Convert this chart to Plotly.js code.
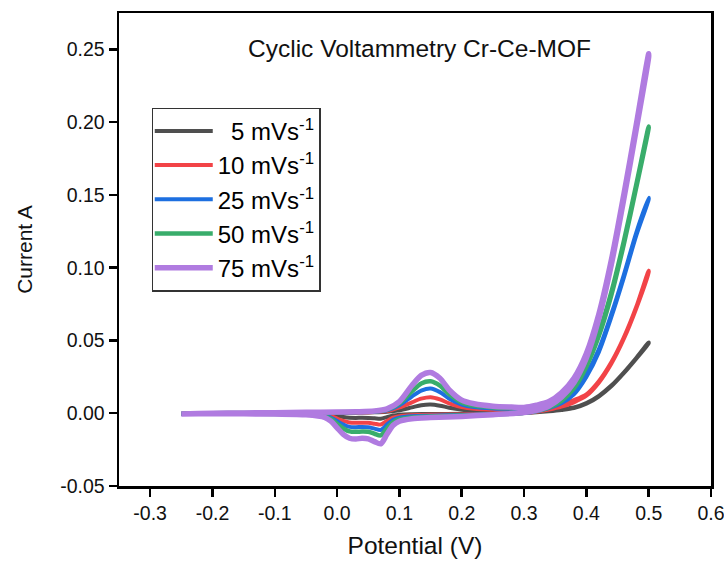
<!DOCTYPE html>
<html>
<head>
<meta charset="utf-8">
<script src="https://cdn.plot.ly/plotly-3.0.1.min.js"></script>
<style>html,body{margin:0;padding:0;background:#fff;}#chart{width:724px;height:561px;}</style>
</head>
<body>
<div id="chart"></div>
<script>
// Scan rate labels
const seriesNames = ["\u00a0\u00a05 mVs<sup>-1</sup>", "10 mVs<sup>-1</sup>", "25 mVs<sup>-1</sup>", "50 mVs<sup>-1</sup>", "75 mVs<sup>-1</sup>"];
const seriesColors = ["#4f4f4f", "#f24347", "#1d6fe0", "#39ad6b", "#b07be0"];

// Forward (anodic) scan potentials, V
const potentialForward = [-0.25, -0.2, -0.15, -0.1, -0.05, 0.0, 0.03, 0.06, 0.08, 0.10, 0.12, 0.135, 0.15, 0.165, 0.18, 0.20, 0.22, 0.25, 0.28, 0.30, 0.32, 0.34, 0.36, 0.38, 0.40, 0.42, 0.44, 0.46, 0.48, 0.50];
// Reverse (cathodic) scan potentials, V
const potentialReverse = [0.50, 0.48, 0.46, 0.44, 0.42, 0.40, 0.38, 0.36, 0.34, 0.32, 0.30, 0.25, 0.20, 0.15, 0.12, 0.10, 0.09, 0.08, 0.07, 0.06, 0.05, 0.04, 0.03, 0.02, 0.01, 0.0, -0.01, -0.02, -0.05, -0.1, -0.15, -0.2, -0.25];

// Currents, A
const current5Fwd = [-0.0003, 0.0, 0.0001, 0.0001, 0.0002, 0.0003, 0.0004, 0.0006, 0.001, 0.002, 0.004, 0.0055, 0.006, 0.0052, 0.0038, 0.0026, 0.0021, 0.0019, 0.0019, 0.002, 0.0022, 0.0025, 0.003, 0.004, 0.007, 0.012, 0.019, 0.028, 0.038, 0.0486];
const current5Rev = [0.048, 0.0375, 0.0275, 0.0185, 0.0115, 0.0065, 0.0035, 0.0022, 0.0013, 0.0006, 0.0001, -0.0002, -0.0004, -0.0005, -0.0007, -0.001, -0.0016, -0.0027, -0.0038, -0.0035, -0.0032, -0.0031, -0.0032, -0.0031, -0.0026, -0.0018, -0.001, -0.0005, -0.0002, -0.0001, -0.0001, -0.0001, -0.0003];

const current10Fwd = [-0.0003, 0.0, 0.0001, 0.0002, 0.0003, 0.0004, 0.0005, 0.0008, 0.0015, 0.004, 0.0075, 0.010, 0.011, 0.0095, 0.0068, 0.0042, 0.003, 0.0026, 0.0025, 0.0025, 0.003, 0.004, 0.006, 0.009, 0.013, 0.022, 0.035, 0.052, 0.073, 0.098];
const current10Rev = [0.097, 0.072, 0.051, 0.034, 0.021, 0.012, 0.0075, 0.0045, 0.0025, 0.001, 0.0002, -0.0004, -0.0008, -0.0011, -0.0014, -0.002, -0.0031, -0.0053, -0.0078, -0.0072, -0.0066, -0.0065, -0.0066, -0.0064, -0.0053, -0.0037, -0.002, -0.001, -0.0004, -0.0003, -0.0002, -0.0002, -0.0004];

const current25Fwd = [-0.0004, 0.0, 0.0001, 0.0002, 0.0004, 0.0005, 0.0007, 0.001, 0.002, 0.0055, 0.0115, 0.0155, 0.017, 0.0145, 0.010, 0.006, 0.0042, 0.0033, 0.003, 0.003, 0.004, 0.0055, 0.008, 0.014, 0.027, 0.044, 0.068, 0.095, 0.124, 0.148];
const current25Rev = [0.147, 0.122, 0.093, 0.066, 0.042, 0.025, 0.013, 0.0068, 0.0035, 0.0013, 0.0002, -0.0006, -0.0012, -0.0017, -0.0021, -0.003, -0.0045, -0.0078, -0.0115, -0.0106, -0.0096, -0.0094, -0.0096, -0.0094, -0.0078, -0.0054, -0.003, -0.0015, -0.0006, -0.0004, -0.0002, -0.0002, -0.0004];

const current50Fwd = [-0.0004, 0.0, 0.0002, 0.0003, 0.0005, 0.0007, 0.0009, 0.0013, 0.0025, 0.0068, 0.015, 0.0205, 0.022, 0.019, 0.013, 0.0075, 0.0052, 0.004, 0.0035, 0.0035, 0.0045, 0.0065, 0.0095, 0.018, 0.034, 0.055, 0.083, 0.118, 0.157, 0.197];
const current50Rev = [0.196, 0.155, 0.116, 0.081, 0.053, 0.032, 0.017, 0.0085, 0.004, 0.0015, 0.0003, -0.0008, -0.0016, -0.0022, -0.0029, -0.0041, -0.0061, -0.0105, -0.0152, -0.0141, -0.0127, -0.0125, -0.0128, -0.0125, -0.0105, -0.0072, -0.004, -0.002, -0.0008, -0.0005, -0.0003, -0.0002, -0.0004];

const current75Fwd = [-0.0005, 0.0, 0.0002, 0.0004, 0.0006, 0.0008, 0.001, 0.0015, 0.003, 0.008, 0.019, 0.026, 0.028, 0.024, 0.016, 0.009, 0.0065, 0.0048, 0.0042, 0.004, 0.0055, 0.008, 0.014, 0.024, 0.041, 0.068, 0.105, 0.150, 0.198, 0.247];
const current75Rev = [0.245, 0.195, 0.147, 0.102, 0.065, 0.038, 0.021, 0.011, 0.005, 0.002, 0.0005, -0.001, -0.0022, -0.003, -0.0038, -0.0055, -0.0083, -0.0145, -0.021, -0.0195, -0.0176, -0.0172, -0.0177, -0.0172, -0.0145, -0.01, -0.0055, -0.0028, -0.0011, -0.0006, -0.0004, -0.0003, -0.0005];

// Tick labels
const xTickVals = [-0.3, -0.2, -0.1, 0.0, 0.1, 0.2, 0.3, 0.4, 0.5, 0.6];
const xTickLabels = ["-0.3", "-0.2", "-0.1", "0.0", "0.1", "0.2", "0.3", "0.4", "0.5", "0.6"];
const yTickVals = [-0.05, 0.0, 0.05, 0.10, 0.15, 0.20, 0.25];
const yTickLabels = ["-0.05", "0.00", "0.05", "0.10", "0.15", "0.20", "0.25"];

const fwdSets = [current5Fwd, current10Fwd, current25Fwd, current50Fwd, current75Fwd];
const revSets = [current5Rev, current10Rev, current25Rev, current50Rev, current75Rev];
const widths = [4, 4, 4, 4.5, 5.5];

const FONT = 'Arial, Liberation Sans, sans-serif';

const traces = seriesNames.map((name, i) => ({
  type: 'scatter',
  mode: 'lines',
  name: name,
  x: potentialForward.concat(potentialReverse),
  y: fwdSets[i].concat(revSets[i]),
  line: {color: seriesColors[i], width: widths[i], shape: 'spline', smoothing: 0.8}
}));

const axisCommon = {
  showgrid: false, zeroline: false,
  showline: true, linecolor: '#000', linewidth: 2.5, mirror: true,
  ticks: 'outside', ticklen: 8, tickwidth: 2.5, tickcolor: '#000',
  tickfont: {family: FONT, size: 19.5, color: '#111'}
};

const layout = {
  width: 724, height: 561,
  margin: {l: 119, r: 13, t: 13, b: 75},
  paper_bgcolor: '#fff', plot_bgcolor: '#fff',
  showlegend: true,
  legend: {
    x: 0.055, y: 0.80, xanchor: 'left', yanchor: 'top',
    bordercolor: '#333', borderwidth: 1.2, bgcolor: '#fff',
    font: {family: FONT, size: 24, color: '#000'},
    itemwidth: 58, tracegroupgap: 0, indentation: -3
  },
  xaxis: Object.assign({}, axisCommon, {
    range: [-0.35, 0.6], tickvals: xTickVals, ticktext: xTickLabels,
    ticklabeloverflow: 'allow',
    title: {text: 'Potential (V)', font: {family: FONT, size: 24.5, color: '#111'}, standoff: 14}
  }),
  yaxis: Object.assign({}, axisCommon, {
    range: [-0.05, 0.275], tickvals: yTickVals, ticktext: yTickLabels,
    title: {text: 'Current A', font: {family: FONT, size: 21, color: '#111'}, standoff: 22}
  }),
  annotations: [{
    text: 'Cyclic Voltammetry Cr-Ce-MOF', xref: 'paper', yref: 'paper',
    x: 0.507, y: 0.924, xanchor: 'center', yanchor: 'middle', showarrow: false,
    font: {family: FONT, size: 24.5, color: '#111'}
  }]
};

Plotly.newPlot('chart', traces, layout, {displayModeBar: false, staticPlot: true});
</script>
</body>
</html>
